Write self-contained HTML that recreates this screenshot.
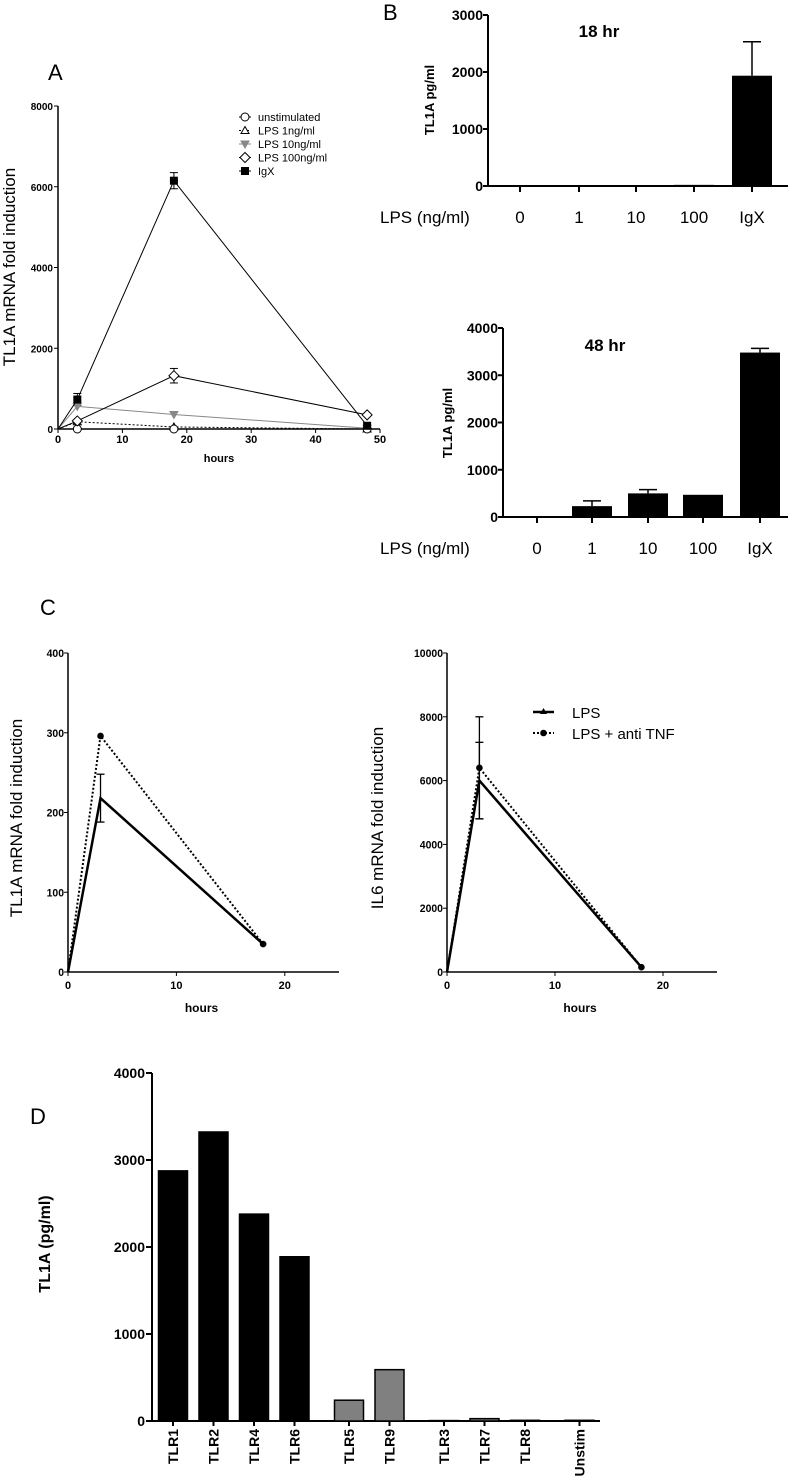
<!DOCTYPE html>
<html><head><meta charset="utf-8"><style>
html,body{margin:0;padding:0;background:#fff;}
svg{display:block;font-family:"Liberation Sans",Arial,sans-serif;}
</style></head><body>
<svg id="fig" width="788" height="1478" viewBox="0 0 788 1478" xmlns="http://www.w3.org/2000/svg">
<text x="48" y="80" font-size="22">A</text>
<text x="383" y="20" font-size="22">B</text>
<text x="40" y="615" font-size="22">C</text>
<text x="30" y="1124" font-size="22">D</text>
</svg>
<script>
// ---------- Panel A data ----------
const aHours = [0, 3, 18, 48];
const aUnstim = [0, 0, 0, 0];
const aLps1 = [0, 180, 50, 0];
const aLps10 = [0, 560, 360, 20];
const aLps100 = [0, 200, 1320, 350];
const aLps100Err = [0, 0, 180, 0];
const aIgx = [0, 730, 6150, 80];
const aIgxErr = [0, 150, 200, 0];
const aYTicks = [0, 2000, 4000, 6000, 8000];
const aXTicks = [0, 10, 20, 30, 40, 50];
const aLegend = ["unstimulated", "LPS 1ng/ml", "LPS 10ng/ml", "LPS 100ng/ml", "IgX"];
// ---------- Panel B data ----------
const bCats = ["0", "1", "10", "100", "IgX"];
const b18Vals = [0, 0, 15, 20, 1935];
const b18Err = [0, 0, 0, 0, 595];
const b18Ticks = [0, 1000, 2000, 3000];
const b48Vals = [0, 230, 500, 470, 3480];
const b48Err = [0, 110, 80, 0, 90];
const b48Ticks = [0, 1000, 2000, 3000, 4000];
// ---------- Panel C data ----------
const cHours = [0, 3, 18];
const cTl1aLps = [0, 218, 35];
const cTl1aLpsErr = [0, 30, 0];
const cTl1aAnti = [0, 296, 35];
const cIl6Lps = [0, 6000, 150];
const cIl6LpsErr = [0, 1200, 0];
const cIl6Anti = [0, 6400, 150];
const cIl6AntiErr = [0, 1600, 0];
const cTl1aTicks = [0, 100, 200, 300, 400];
const cIl6Ticks = [0, 2000, 4000, 6000, 8000, 10000];
const cXTicks = [0, 10, 20];
// ---------- Panel D data ----------
const dCats = ["TLR1", "TLR2", "TLR4", "TLR6", "TLR5", "TLR9", "TLR3", "TLR7", "TLR8", "Unstim"];
const dVals = [2875, 3322, 2378, 1888, 239, 590, 5, 27, 8, 8];
const dGroup = [0, 0, 0, 0, 1, 1, 2, 2, 2, 3];
const dTicks = [0, 1000, 2000, 3000, 4000];

const NS = "http://www.w3.org/2000/svg";
const svg = document.getElementById("fig");
function el(tag, attrs, parent) {
  const e = document.createElementNS(NS, tag);
  for (const k in attrs) e.setAttribute(k, attrs[k]);
  (parent || svg).appendChild(e);
  return e;
}
function txt(x, y, s, attrs) {
  const t = el("text", Object.assign({x: x, y: y}, attrs || {}));
  t.textContent = s;
  return t;
}
function lin(d0, d1, r0, r1) { return v => r0 + (v - d0) * (r1 - r0) / (d1 - d0); }

// ================= Panel A =================
(function () {
  const g = el("g", {});
  
  
  const X = lin(0, 50, 58, 380), Y = lin(0, 8000, 429, 106);
  el("line", {x1: 58, y1: 106, x2: 58, y2: 429, stroke: "#000", "stroke-width": 1.5}, g);
  el("line", {x1: 58, y1: 429, x2: 380, y2: 429, stroke: "#000", "stroke-width": 1.5}, g);
  aYTicks.forEach(v => {
    el("line", {x1: 54, y1: Y(v), x2: 58, y2: Y(v), stroke: "#000"}, g);
    const t = txt(53, Y(v) + 4, String(v), {"font-size": 10, "font-weight": "bold", "text-anchor": "end"});
    
    
  });
  aXTicks.forEach(v => {
    el("line", {x1: X(v), y1: 429, x2: X(v), y2: 433, stroke: "#000"}, g);
    const t = txt(X(v), 443, String(v), {"font-size": 11, "font-weight": "bold", "text-anchor": "middle"});
    
    
  });
  const xt = txt(219, 462, "hours", {"font-size": 11, "font-weight": "bold", "text-anchor": "middle"});
  
  
  const yt = txt(0, 0, "TL1A mRNA fold induction", {"font-size": 17, "text-anchor": "middle", transform: "translate(15,267) rotate(-90)"});
  
  

  function series(vals, color, dash, marker, name) {
    const pts = vals.map((v, i) => X(aHours[i]) + "," + Y(v)).join(" ");
    const p = el("polyline", {points: pts, fill: "none", stroke: color, "stroke-width": 1, "stroke-dasharray": dash || "none"}, g);
    
    
    vals.forEach((v, i) => { if (i > 0) { const m = marker(X(aHours[i]), Y(v));   } });
  }
  function err(vals, errs) {
    vals.forEach((v, i) => {
      if (errs[i] > 0) {
        const x = X(aHours[i]);
        el("line", {x1: x, y1: Y(v + errs[i]), x2: x, y2: Y(v - errs[i]), stroke: "#000"}, g);
        el("line", {x1: x - 4, y1: Y(v + errs[i]), x2: x + 4, y2: Y(v + errs[i]), stroke: "#000"}, g);
        el("line", {x1: x - 4, y1: Y(v - errs[i]), x2: x + 4, y2: Y(v - errs[i]), stroke: "#000"}, g);
      }
    });
  }
  const circ = (x, y) => el("circle", {cx: x, cy: y, r: 4, fill: "#fff", stroke: "#000"}, g);
  const tri = (x, y) => el("polygon", {points: `${x},${y - 4} ${x - 4},${y + 3} ${x + 4},${y + 3}`, fill: "#fff", stroke: "#000"}, g);
  const itri = (x, y) => el("polygon", {points: `${x},${y + 4} ${x - 4},${y - 3} ${x + 4},${y - 3}`, fill: "#888", stroke: "#888"}, g);
  const dia = (x, y) => el("polygon", {points: `${x},${y - 5} ${x + 5},${y} ${x},${y + 5} ${x - 5},${y}`, fill: "#fff", stroke: "#000"}, g);
  const sq = (x, y) => el("rect", {x: x - 4, y: y - 4, width: 8, height: 8, fill: "#000"}, g);
  err(aLps100, aLps100Err);
  err(aIgx, aIgxErr);
  series(aLps10, "#888", null, itri, "lps10");
  series(aLps1, "#000", "2,2", tri, "lps1");
  series(aUnstim, "#000", null, circ, "unstim");
  series(aLps100, "#000", null, dia, "lps100");
  series(aIgx, "#000", null, sq, "igx");
  const markers = [circ, tri, itri, dia, sq];
  const lcol = ["#000", "#000", "#888", "#000", "#000"];
  aLegend.forEach((s, i) => {
    const y = 117 + i * 13.5;
    el("line", {x1: 239, y1: y, x2: 251, y2: y, stroke: lcol[i], "stroke-dasharray": i === 1 ? "2,2" : "none"}, g);
    const m = markers[i](245, y);
    
    
    const t = txt(258, y + 4, s, {"font-size": 11});
    
    
  });
})();

// ================= Panel B =================
function barPanel(vals, errs, ticks, yMax, y0, yTop, axX, axEnd, centers, labelY, title, titleX, titleY, ylabX, ylabY, name) {
  const g = el("g", {});
  
  
  const Y = lin(0, yMax, y0, yTop);
  el("line", {x1: axX, y1: yTop, x2: axX, y2: y0, stroke: "#000", "stroke-width": 2}, g);
  el("line", {x1: axX, y1: y0, x2: axEnd, y2: y0, stroke: "#000", "stroke-width": 2}, g);
  ticks.forEach(v => {
    el("line", {x1: axX - 5, y1: Y(v), x2: axX, y2: Y(v), stroke: "#000", "stroke-width": 2}, g);
    const t = txt(axX - 5, Y(v) + 5, String(v), {"font-size": 14, "font-weight": "bold", "text-anchor": "end"});
    
    
  });
  vals.forEach((v, i) => {
    const c = centers[i];
    el("line", {x1: c, y1: y0, x2: c, y2: y0 + 6, stroke: "#000", "stroke-width": 2}, g);
    if (v > 0) {
      const r = el("rect", {x: c - 20, y: Y(v), width: 40, height: y0 - Y(v), fill: "#000"}, g);
      
      
    }
    if (errs[i] > 0) {
      el("line", {x1: c, y1: Y(v), x2: c, y2: Y(v + errs[i]), stroke: "#000", "stroke-width": 1.5}, g);
      el("line", {x1: c - 9, y1: Y(v + errs[i]), x2: c + 9, y2: Y(v + errs[i]), stroke: "#000", "stroke-width": 1.5}, g);
    }
    const t = txt(c, labelY, bCats[i], {"font-size": 17, "text-anchor": "middle"});
    
    
  });
  const l = txt(380, labelY, "LPS (ng/ml)", {"font-size": 17});
  
  
  const tt = txt(titleX, titleY, title, {"font-size": 17, "font-weight": "bold", "text-anchor": "middle"});
  
  
  const yl = txt(0, 0, "TL1A pg/ml", {"font-size": 13, "font-weight": "bold", "text-anchor": "middle", transform: `translate(${ylabX},${ylabY}) rotate(-90)`});
  
  
}
barPanel(b18Vals, b18Err, b18Ticks, 3000, 186, 15, 488, 788, [520, 579, 636, 694, 752], 223, "18 hr", 599, 37, 434, 100, "panel-b-18hr-bar-chart");
barPanel(b48Vals, b48Err, b48Ticks, 4000, 517, 328, 503, 788, [537, 592, 648, 703, 760], 554, "48 hr", 605, 351, 452, 423, "panel-b-48hr-bar-chart");

// ================= Panel C =================
function linePanel(ax, axEnd, yMax, ticks, lps, lpsErr, anti, antiErr, ylab, ylabX, name) {
  const g = el("g", {});
  
  
  const y0 = 972, yTop = 653;
  const X = lin(0, 25, ax, axEnd), Y = lin(0, yMax, y0, yTop);
  el("line", {x1: ax, y1: yTop, x2: ax, y2: y0, stroke: "#000", "stroke-width": 1.5}, g);
  el("line", {x1: ax, y1: y0, x2: axEnd, y2: y0, stroke: "#000", "stroke-width": 1.5}, g);
  ticks.forEach(v => {
    el("line", {x1: ax - 4, y1: Y(v), x2: ax, y2: Y(v), stroke: "#000"}, g);
    const t = txt(ax - 4, Y(v) + 4, String(v), {"font-size": 11, "font-weight": "bold", "text-anchor": "end", "textLength": String(v).length * 5.8, "lengthAdjust": "spacingAndGlyphs"});
    
    
  });
  cXTicks.forEach(v => {
    el("line", {x1: X(v), y1: y0, x2: X(v), y2: y0 + 4, stroke: "#000"}, g);
    const t = txt(X(v), y0 + 17, String(v), {"font-size": 11, "font-weight": "bold", "text-anchor": "middle"});
    
    
  });
  const xt = txt(X(12.5) - 2, 1012, "hours", {"font-size": 12, "font-weight": "bold", "text-anchor": "middle"});
  
  
  const yt = txt(0, 0, ylab, {"font-size": 17, "text-anchor": "middle", transform: `translate(${ylabX},818) rotate(-90)`});
  
  
  function errBar(vals, errs) {
    vals.forEach((v, i) => {
      if (errs[i] > 0) {
        const x = X(cHours[i]);
        el("line", {x1: x, y1: Y(v + errs[i]), x2: x, y2: Y(v - errs[i]), stroke: "#000", "stroke-width": 1.3}, g);
        el("line", {x1: x - 4, y1: Y(v + errs[i]), x2: x + 4, y2: Y(v + errs[i]), stroke: "#000", "stroke-width": 1.3}, g);
        el("line", {x1: x - 4, y1: Y(v - errs[i]), x2: x + 4, y2: Y(v - errs[i]), stroke: "#000", "stroke-width": 1.3}, g);
      }
    });
  }
  errBar(lps, lpsErr);
  errBar(anti, antiErr);
  const p1 = el("polyline", {points: anti.map((v, i) => X(cHours[i]) + "," + Y(v)).join(" "), fill: "none", stroke: "#000", "stroke-width": 2, "stroke-dasharray": "2,2"}, g);
  
  
  const p2 = el("polyline", {points: lps.map((v, i) => X(cHours[i]) + "," + Y(v)).join(" "), fill: "none", stroke: "#000", "stroke-width": 2.5}, g);
  
  
  anti.forEach((v, i) => {
    if (i > 0) {
      const c = el("circle", {cx: X(cHours[i]), cy: Y(v), r: 3.3, fill: "#000"}, g);
      
      
    }
  });
}
linePanel(68, 339, 400, cTl1aTicks, cTl1aLps, cTl1aLpsErr, cTl1aAnti, [0, 0, 0], "TL1A mRNA fold induction", 22, "panel-c-tl1a-chart");
linePanel(447, 717, 10000, cIl6Ticks, cIl6Lps, cIl6LpsErr, cIl6Anti, cIl6AntiErr, "IL6 mRNA fold induction", 383, "panel-c-il6-chart");
// legend C
(function () {
  el("line", {x1: 533, y1: 712, x2: 554, y2: 712, stroke: "#000", "stroke-width": 2.5});
  el("polygon", {points: "543.5,708 540,714 547,714", fill: "#000"});
  el("line", {x1: 533, y1: 733, x2: 554, y2: 733, stroke: "#000", "stroke-width": 2, "stroke-dasharray": "2,2"});
  el("circle", {cx: 543.5, cy: 733, r: 3.3, fill: "#000"});
  const t1 = txt(572, 718, "LPS", {"font-size": 15});
  
  
  const t2 = txt(572, 739, "LPS + anti TNF", {"font-size": 15});
  
  
})();

// ================= Panel D =================
(function () {
  const g = el("g", {});
  
  
  const y0 = 1421, yTop = 1073, ax = 152, axEnd = 600;
  const Y = lin(0, 4000, y0, yTop);
  const groupGap = 14, slot = 40.5;
  el("line", {x1: ax, y1: yTop, x2: ax, y2: y0, stroke: "#000", "stroke-width": 2}, g);
  el("line", {x1: ax, y1: y0, x2: axEnd, y2: y0, stroke: "#000", "stroke-width": 2}, g);
  dTicks.forEach(v => {
    el("line", {x1: ax - 6, y1: Y(v), x2: ax, y2: Y(v), stroke: "#000", "stroke-width": 2}, g);
    const t = txt(ax - 7, Y(v) + 5, String(v), {"font-size": 14, "font-weight": "bold", "text-anchor": "end"});
    
    
  });
  dVals.forEach((v, i) => {
    const c = 173 + i * slot + dGroup[i] * groupGap;
    const fill = (dGroup[i] === 0) ? "#000" : "#808080";
    const r = el("rect", {x: c - 14.5, y: Y(v), width: 29, height: Math.max(y0 - Y(v), 0.5), fill: fill, stroke: "#000", "stroke-width": 1.5}, g);
    
    
    el("line", {x1: c, y1: y0, x2: c, y2: y0 + 5, stroke: "#000", "stroke-width": 2}, g);
    const t = txt(0, 0, dCats[i], {"font-size": 14, "font-weight": "bold", "text-anchor": "end", transform: `translate(${c + 5},${y0 + 8}) rotate(-90)`});
    
    
  });
  const yt = txt(0, 0, "TL1A (pg/ml)", {"font-size": 16, "font-weight": "bold", "text-anchor": "middle", transform: "translate(50,1244) rotate(-90)"});
  
  
})();
</script>
</body></html>
